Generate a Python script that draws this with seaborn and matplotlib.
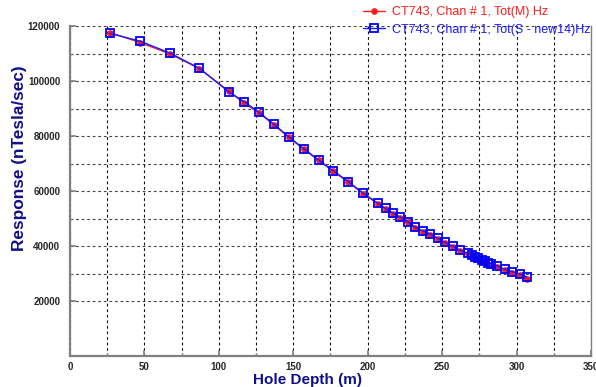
import numpy as np
import pandas as pd
import seaborn as sns
import matplotlib.pyplot as plt
from matplotlib.ticker import FixedLocator

# depth (m) of each station
depth = [27, 47, 67, 87, 107, 117, 127, 137, 147, 157, 167, 177, 187, 197,
         207, 212, 217, 222, 227, 232, 237, 242, 247, 252, 257, 262,
         267.5, 270, 272, 274, 276.5, 279, 281, 283, 287, 292, 297, 302, 307]

# Tot(M) response, red series
resp_m = [117600, 114000, 109900, 104500, 96200, 91900, 88400, 84000, 79500,
          75200, 71100, 67100, 63200, 59000, 55300, 53500, 51700, 50300,
          48600, 46600, 45200, 44100, 42600, 41000, 39700, 38200, 37000,
          36300, 35800, 35200, 34600, 34100, 33600, 33100, 32400, 31200,
          30200, 29300, 28100]

# Tot(S - new14) response, blue series
resp_s = [117300, 114500, 110200, 104600, 95900, 92500, 88600, 84300, 79700,
          75400, 71300, 67300, 63400, 59200, 55500, 53700, 51900, 50500,
          48800, 46800, 45500, 44400, 42900, 41300, 40000, 38500, 37300,
          36600, 36100, 35500, 34900, 34400, 33900, 33500, 32800, 31600,
          30700, 29800, 28800]

x_ticks = [0, 50, 100, 150, 200, 250, 300, 350]
y_ticks = [20000, 40000, 60000, 80000, 100000, 120000]

label_m = "CT743, Chan # 1, Tot(M) Hz"
label_s = "CT743, Chan # 1, Tot(S - new14)Hz"

df = pd.DataFrame({"depth": depth, "m": resp_m, "s": resp_s})

sns.set_theme(style="white")
plt.rcParams["font.family"] = ["Liberation Sans", "DejaVu Sans"]

fig = plt.figure(figsize=(5.96, 3.87), dpi=100)
ax = fig.add_axes([0.1174, 0.0801, 0.8742, 0.8527])

sns.lineplot(data=df, x="depth", y="m", ax=ax, color="#ff1a1a", lw=1.0,
             marker="o", markersize=4, markeredgecolor="#ff1a1a",
             sort=False, label=label_m, zorder=3)
sns.lineplot(data=df, x="depth", y="s", ax=ax, color="#1a1aff", lw=1.0,
             marker="s", markersize=6, markerfacecolor="none",
             markeredgecolor="#0000ff", markeredgewidth=1.3,
             sort=False, label=label_s, zorder=4)

ax.set_xlim(0, 350)
ax.set_ylim(0, 120000)
ax.xaxis.set_major_locator(FixedLocator(x_ticks))
ax.xaxis.set_minor_locator(FixedLocator(np.arange(25, 350, 50)))
ax.yaxis.set_major_locator(FixedLocator(y_ticks))
ax.yaxis.set_minor_locator(FixedLocator(np.arange(30000, 120000, 20000)))

ax.grid(which="both", axis="x", color="#111111", ls=(0, (2.5, 2.5)), lw=0.8)
ax.grid(which="both", axis="y", color="#444444", ls=(0, (2.5, 2.5)), lw=0.8)
ax.set_axisbelow(True)

for side in ["left", "bottom"]:
    ax.spines[side].set_color("#808080")
    ax.spines[side].set_linewidth(1.6)
ax.spines["right"].set_color("#808080")
ax.spines["right"].set_linewidth(1.0)
ax.spines["top"].set_visible(False)

ax.tick_params(which="major", direction="in", length=4, color="#808080",
               width=1.2, labelsize=7)
ax.tick_params(axis="x", which="major", pad=4)
ax.tick_params(axis="y", which="major", pad=7)
ax.tick_params(which="minor", direction="in", length=2, color="#808080",
               width=1.0)
ax.tick_params(axis="both", which="both", left=True, bottom=True)
ax.set_yticklabels([str(v) for v in y_ticks], fontweight="bold")
ax.set_xticklabels([str(v) for v in x_ticks], fontweight="bold")

ax.set_xlabel("Hole Depth (m)", fontsize=11, fontweight="bold",
              color="#10108a")
ax.xaxis.set_label_coords(0.456, -0.053)
ax.set_ylabel("Response (nTesla/sec)", fontsize=12.4, fontweight="bold",
              color="#10108a")
ax.yaxis.set_label_coords(-0.083, 0.6)

leg = ax.legend(loc="upper right", frameon=False,
                fontsize=9, labelcolor="linecolor", handlelength=1.8,
                handletextpad=0.5, labelspacing=0.45, borderaxespad=0,
                borderpad=0)
leg.set_bbox_to_anchor((590 / 596, 1 - 6 / 387), transform=fig.transFigure)
leg.set_zorder(10)

fig.savefig("out.png", dpi=100)
